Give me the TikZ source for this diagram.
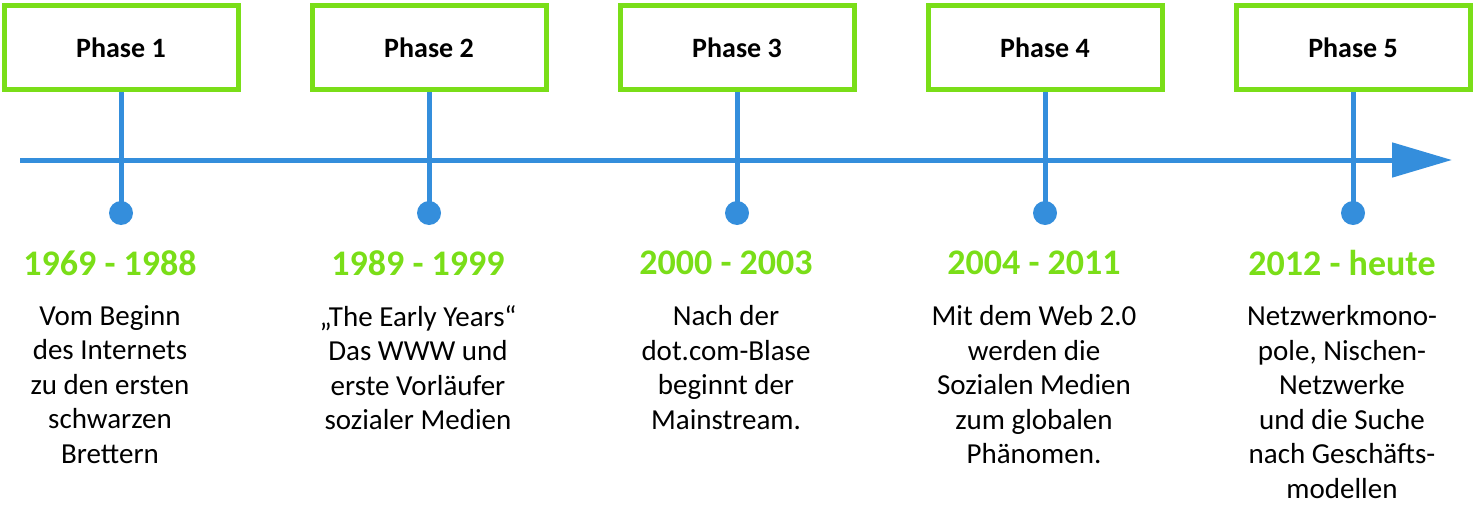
\documentclass[tikz,border=0pt]{standalone}
\usepackage{fontspec}
\setmainfont{Carlito}
\usetikzlibrary{arrows.meta}
\definecolor{phasegreen}{RGB}{122,222,24}
\definecolor{lineblue}{RGB}{52,142,220}
\begin{document}
\begin{tikzpicture}[x=1pt,y=-1pt]

    % Styles
    \tikzset{phasebox/.style={rectangle, draw=phasegreen, line width=5pt, fill=white, minimum width=234pt, minimum height=84pt, font=\fontsize{28}{32}\selectfont\bfseries},
             dot/.style={circle, fill=lineblue, inner sep=0pt, minimum size=24pt},
             datum/.style={text=phasegreen, font=\fontsize{36}{40}\selectfont\bfseries},
             info/.style={align=center, anchor=north, font=\fontsize{29}{34.5}\selectfont},
             stem/.style={draw=lineblue, line width=5pt}}
    \useasboundingbox (0,0) rectangle (1479,508);

    % Zeitachse
    \coordinate (a0) at (20,160);
    \coordinate (a1) at (1452,160);
    \draw [lineblue, line width=5pt, -{Triangle[length=60pt,width=34pt]}] (a0) -- (a1);

    % Phasen
    \foreach \i/\d/\t in {1/{1969 - 1988}/{Vom Beginn\\des Internets\\zu den ersten\\schwarzen\\Brettern},
                          2/{1989 - 1999}/{„The Early Years“\\Das WWW und\\erste Vorläufer\\sozialer Medien},
                          3/{2000 - 2003}/{Nach der\\dot.com-Blase\\beginnt der\\Mainstream.},
                          4/{2004 - 2011}/{Mit dem Web 2.0\\werden die\\Sozialen Medien\\zum globalen\\Phänomen.},
                          5/{2012 - heute}/{Netzwerkmono-\\pole, Nischen-\\Netzwerke\\und die Suche\\nach Geschäfts-\\modellen}}{
        \node (d\i) [dot] at ({121+308*(\i-1)},213) {};
        \draw [stem] ({121+308*(\i-1)},92) -- (d\i.center);
        \node (p\i) [phasebox] at ({121+308*(\i-1)},48) {Phase \i};
        \node (t\i) [datum] at ({110+308*(\i-1)},263) {\d};
        \node (x\i) [info] at ({110+308*(\i-1)},302) {\t};
    }

\end{tikzpicture}
\end{document}
